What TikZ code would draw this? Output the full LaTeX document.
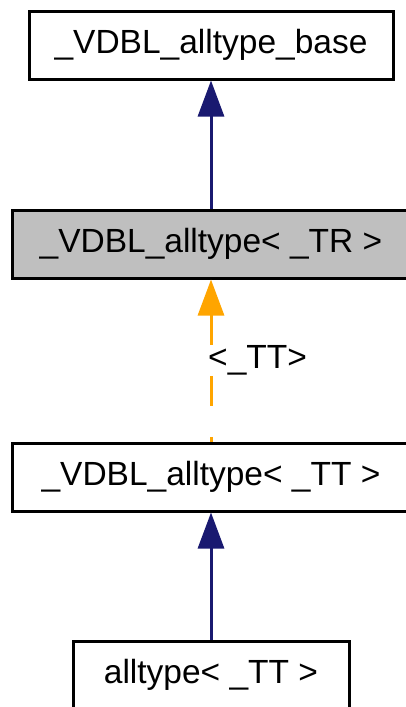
\documentclass[tikz,border=0pt]{standalone}
\usepackage{fontspec}
\setmainfont{Liberation Sans}
\usepackage{xcolor}
\usetikzlibrary{arrows.meta}
\definecolor{edgeblue}{RGB}{25,25,112}
\definecolor{edgeorange}{RGB}{255,165,0}
\definecolor{boxgray}{RGB}{191,191,191}

\begin{document}
\begin{tikzpicture}[x=1pt,y=-1pt,
  cls/.style={draw,line width=3pt,inner sep=0pt,minimum height=68pt,
    font=\fontsize{33.5}{40}\selectfont},
  inh/.style={line width=3pt,{Triangle[length=36pt,width=26pt]}-}]
  \useasboundingbox (0,0) rectangle (405,707);
  \node (vb) [cls,minimum width=364pt] at (211,45) {\_VDBL\_alltype\_base};
  \node (vtr) [cls,fill=boxgray,minimum width=398pt] at (211,244) {\_VDBL\_alltype< \_TR >};
  \node (vtt) [cls,minimum width=398pt] at (211,477) {\_VDBL\_alltype< \_TT >};
  \node (at) [cls,minimum width=276pt] at (211,675) {alltype< \_TT >};
  \draw[inh,edgeblue] (vb) -- (vtr);
  \draw[inh,edgeorange,dash pattern=on 30pt off 31pt] (vtr) -- (vtt);
  \node (tt) [anchor=west,inner sep=0pt,font=\fontsize{33.5}{40}\selectfont] at (208,360) {<\_TT>};
  \draw[inh,edgeblue] (vtt) -- (at);
\end{tikzpicture}
\end{document}
